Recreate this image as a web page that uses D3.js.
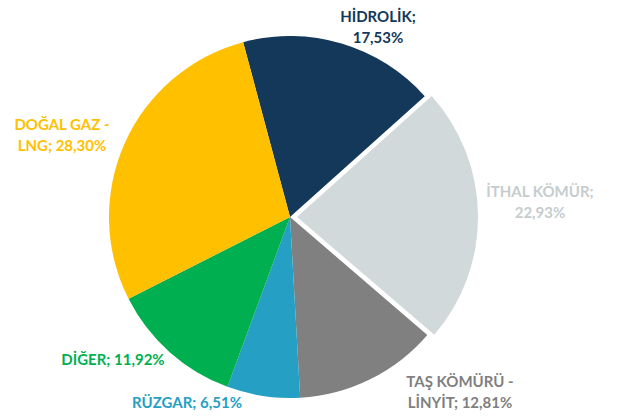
<!DOCTYPE html>
<html><head><meta charset="utf-8">
<script src="https://cdn.jsdelivr.net/npm/d3@7"></script>
<style>
html,body{margin:0;padding:0;background:#fff;}
svg{display:block;}
text{font-family:Lato,"Open Sans",sans-serif;font-weight:700;}
</style></head>
<body>
<svg id="chart" width="617" height="417"></svg>
<script>
// ---- data ----
const categories = ["HİDROLİK", "İTHAL KÖMÜR", "TAŞ KÖMÜRÜ - LİNYİT", "RÜZGAR", "DİĞER", "DOĞAL GAZ - LNG"];
const values = [17.53, 22.93, 12.81, 6.51, 11.92, 28.30];
const labelLines = [
  ["HİDROLİK;", "17,53%"],
  ["İTHAL KÖMÜR;", "22,93%"],
  ["TAŞ KÖMÜRÜ -", "LİNYİT; 12,81%"],
  ["RÜZGAR; 6,51%"],
  ["DİĞER; 11,92%"],
  ["DOĞAL GAZ -", "LNG; 28,30%"]
];
const colors = ["#133859", "#D2D9DB", "#808080", "#25A0C4", "#00B050", "#FFC000"];
const labelColors = ["#133859", "#C6CCCE", "#7F7F7F", "#25A0C4", "#00B050", "#FFC000"];
const exploded = [false, true, false, false, false, false];

// ---- layout ----
const cx = 290, cy = 217, radius = 181, explodeOffset = 7;
const startDeg = -15;
// label anchor points (center of first line baseline)
const labelPos = [[378, 22], [540, 197], [460, 387], [187, 408], [113, 365], [62, 130]];
const lineHeight = 21;

const svg = d3.select("#chart");
const g = svg.append("g").attr("transform", `translate(${cx},${cy})`);

const pie = d3.pie().sort(null).value(d => d)
  .startAngle(startDeg * Math.PI / 180)
  .endAngle(startDeg * Math.PI / 180 + 2 * Math.PI);
const arcs = pie(values);
const arc = d3.arc().innerRadius(0).outerRadius(radius);

g.selectAll("path").data(arcs).join("path")
  .attr("d", arc)
  .attr("fill", (d, i) => colors[i])
  .attr("transform", (d, i) => {
    if (!exploded[i]) return null;
    const a = (d.startAngle + d.endAngle) / 2;
    return `translate(${Math.sin(a) * explodeOffset},${-Math.cos(a) * explodeOffset})`;
  });

const lg = svg.append("g");
labelLines.forEach((lines, i) => {
  const t = lg.append("text")
    .attr("x", labelPos[i][0]).attr("y", labelPos[i][1])
    .attr("text-anchor", "middle")
    .attr("font-size", 15)
    .attr("fill", labelColors[i]);
  lines.forEach((ln, j) => {
    t.append("tspan").attr("x", labelPos[i][0]).attr("y", labelPos[i][1] + j * lineHeight).text(ln);
  });
});
</script>
</body></html>
